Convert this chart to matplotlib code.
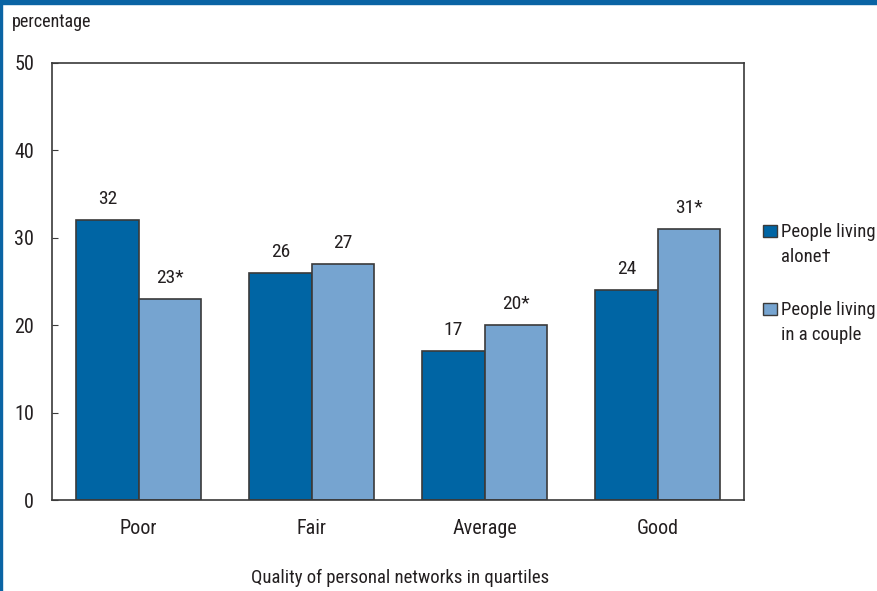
import matplotlib.pyplot as plt
import numpy as np
from matplotlib.patches import Rectangle

# data
categories = ["Poor", "Fair", "Average", "Good"]
alone = [32, 26, 17, 24]
couple = [23, 27, 20, 31]
alone_labels = ["32", "26", "17", "24"]
couple_labels = ["23*", "27", "20*", "31*"]
yticks = [0, 10, 20, 30, 40, 50]
legend_lines = [["People living", "alone\u2020"], ["People living", "in a couple"]]

plt.rcParams["font.family"] = ["Roboto Condensed", "Liberation Sans Narrow", "DejaVu Sans"]
plt.rcParams["font.size"] = 13

dark = "#0065a4"
light = "#76a4d0"
edge = "#3a3a3a"
txt = "#231f20"
W, H = 877, 591

fig = plt.figure(figsize=(8.77, 5.91), dpi=100)
ax = fig.add_axes([52 / W, 1 - 500 / H, 692 / W, 437 / H])

x = np.arange(len(categories))
w = 0.36
b1 = ax.bar(x - w / 2, alone, w, color=dark, edgecolor=edge, linewidth=1.2)
b2 = ax.bar(x + w / 2, couple, w, color=light, edgecolor=edge, linewidth=1.2)

for rects, labs in ((b1, alone_labels), (b2, couple_labels)):
    for r, lab in zip(rects, labs):
        ax.text(r.get_x() + r.get_width() / 2, r.get_height() + 1.4, lab,
                ha="center", va="bottom", fontsize=14, color=txt)

ax.set_xlim(-0.5, 3.5)
ax.set_ylim(0, 50)
ax.set_yticks(yticks)
ax.set_xticks(x)
ax.set_xticklabels(categories)
ax.tick_params(axis="y", direction="in", length=4.5, pad=13, colors=edge, labelcolor=txt, labelsize=14.5)
ax.tick_params(axis="x", length=0, pad=14, labelcolor=txt, labelsize=14.5)
for s in ax.spines.values():
    s.set_color(edge)
    s.set_linewidth(1.2)

fig.text(12 / W, 1 - 22 / H, "percentage", ha="left", va="center", fontsize=13, color=txt)
fig.text(400 / W, 1 - 578 / H, "Quality of personal networks in quartiles",
         ha="center", va="center", fontsize=13.5, color=txt)

# legend: square aligned with the first line of each label
for i, (col, lines) in enumerate(zip([dark, light], legend_lines)):
    top = 225 + i * 78
    fig.patches.append(Rectangle((763 / W, 1 - (top + 12) / H), 14 / W, 12 / H,
                                 transform=fig.transFigure, facecolor=col,
                                 edgecolor=edge, linewidth=1.0))
    for j, line in enumerate(lines):
        fig.text(781 / W, 1 - (top + 12 + j * 25) / H, line, ha="left", va="baseline",
                 fontsize=13.5, color=txt)

# blue frame at top and left
fig.patches.append(Rectangle((0, 1 - 4 / H), 1, 4 / H, transform=fig.transFigure,
                             color="#0a64a4", zorder=5))
fig.patches.append(Rectangle((0, 0), 2 / W, 1, transform=fig.transFigure,
                             color="#0a64a4", zorder=5))

fig.savefig("out.png", dpi=100)
